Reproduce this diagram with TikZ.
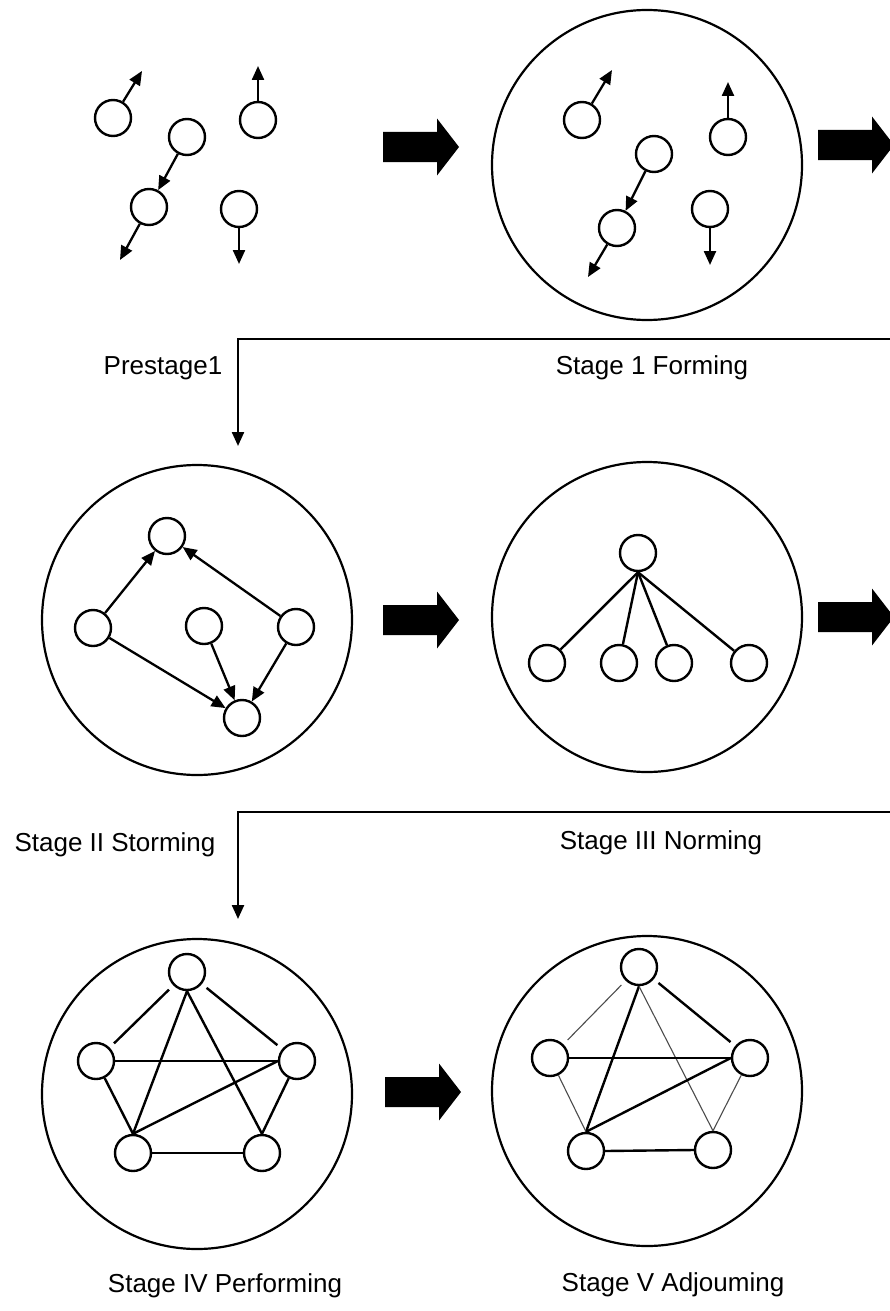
\documentclass[tikz,border=0pt]{standalone}
\usepackage{fontspec}
\setmainfont{Liberation Sans}
\usetikzlibrary{arrows.meta}
\begin{document}
\begin{tikzpicture}[x=1pt,y=-1pt,
  mem/.style={circle,draw,line width=2.4pt,minimum size=36pt,inner sep=0pt},
  grp/.style={circle,draw,line width=2.2pt,minimum size=310pt,inner sep=0pt},
  arr/.style={line width=2.3pt,-{Triangle[length=14pt,width=12pt]}},
  link/.style={line width=2.4pt},
  gap/.style={shorten >=6pt,shorten <=6pt},
  thin link/.style={line width=1.1pt,black!70},
  lab/.style={font=\fontsize{26}{30}\selectfont,inner sep=0pt},
  fatarrow/.pic={\fill (0,-15) -- (54,-15) -- (54,-28.5) -- (76,0) -- (54,28.5) -- (54,15) -- (0,15) -- cycle;}
]
\useasboundingbox (0,0) rectangle (890,1311);
\clip (0,0) rectangle (890,1311);

% ---------- Prestage ----------
\node[mem] (a1) at (113,118) {};
\node[mem] (a2) at (258,120) {};
\node[mem] (a3) at (187,137) {};
\node[mem] (a4) at (149,207) {};
\node[mem] (a5) at (239,209) {};
\coordinate (a1e) at (142,71);
\coordinate (a2e) at (258,66);
\coordinate (a4e) at (120,260);
\coordinate (a5e) at (239,264);
\draw[arr] (a1) -- (a1e);
\draw[arr] (a2) -- (a2e);
\draw[arr] (a3) -- (a4);
\draw[arr] (a4) -- (a4e);
\draw[arr] (a5) -- (a5e);

\pic at (383,147) {fatarrow};

% ---------- Stage 1 ----------
\node[grp] (g1) at (647,165) {};
\node[mem] (b1) at (582,120) {};
\node[mem] (b2) at (728,137) {};
\node[mem] (b3) at (654,154) {};
\node[mem] (b4) at (617,228) {};
\node[mem] (b5) at (710,209) {};
\coordinate (b1e) at (612,70);
\coordinate (b2e) at (728,82);
\coordinate (b4e) at (588,277);
\coordinate (b5e) at (710,265);
\draw[arr] (b1) -- (b1e);
\draw[arr] (b2) -- (b2e);
\draw[arr] (b3) -- (b4);
\draw[arr] (b4) -- (b4e);
\draw[arr] (b5) -- (b5e);

\pic at (818,145) {fatarrow};

% connector 1
\coordinate (r1) at (895,339);
\coordinate (k1) at (238,339);
\coordinate (d1) at (238,446);
\draw[arr] (r1) -- (k1) -- (d1);

\node[lab] (l0) at (163,368) {Prestage1};
\node[lab] (l1) at (652,368) {Stage 1 Forming};

% ---------- Stage II ----------
\node[grp] (g2) at (197,620) {};
\node[mem] (c1) at (167,536) {};
\node[mem] (c2) at (93,628) {};
\node[mem] (c3) at (204,626) {};
\node[mem] (c4) at (296,627) {};
\node[mem] (c5) at (242,718) {};
\draw[arr] (c2) -- (c1);
\draw[arr] (c4) -- (c1);
\draw[arr] (c2) -- (c5);
\draw[arr] (c3) -- (c5);
\draw[arr] (c4) -- (c5);

\pic at (383,620) {fatarrow};

% ---------- Stage III ----------
\node[grp] (g3) at (647,617) {};
\node[mem] (n0) at (638,553) {};
\node[mem] (n1) at (547,663) {};
\node[mem] (n2) at (619,663) {};
\node[mem] (n3) at (674,663) {};
\node[mem] (n4) at (749,663) {};
\draw[link] (n0.south) -- (n1);
\draw[link] (n0.south) -- (n2);
\draw[link] (n0.south) -- (n3);
\draw[link] (n0.south) -- (n4);

\pic at (818,617) {fatarrow};

% connector 2
\coordinate (r2) at (895,812);
\coordinate (k2) at (238,812);
\coordinate (d2) at (238,919);
\draw[arr] (r2) -- (k2) -- (d2);

\node[lab] (l2) at (115,845) {Stage II Storming};
\node[lab] (l3) at (661,843) {Stage III Norming};

% ---------- Stage IV ----------
\node[grp] (g4) at (197,1094) {};
\node[mem] (p1) at (187,972) {};
\node[mem] (p2) at (96,1061) {};
\node[mem] (p3) at (297,1061) {};
\node[mem] (p4) at (133,1153) {};
\node[mem] (p5) at (262,1153) {};
\draw[link,gap] (p1) -- (p2);
\draw[link,gap] (p1) -- (p3);
\draw[link] (p1.south) -- (p4.north);
\draw[link] (p1.south) -- (p5.north);
\draw[link] (p2.east) -- (p3.west);
\draw[link] (p2) -- (p4.north);
\draw[link] (p3) -- (p5.north);
\draw[link] (p3.west) -- (p4.north);
\draw[link] (p4.east) -- (p5.west);

\pic at (385,1092) {fatarrow};

% ---------- Stage V ----------
\node[grp] (g5) at (647,1091) {};
\node[mem] (q1) at (639,967) {};
\node[mem] (q2) at (550,1058) {};
\node[mem] (q3) at (750,1058) {};
\node[mem] (q4) at (586,1151) {};
\node[mem] (q5) at (713,1150) {};
\draw[thin link,gap] (q1) -- (q2);
\draw[link,gap] (q1) -- (q3);
\draw[link] (q1.south) -- (q4.north);
\draw[thin link] (q1.south) -- (q5.north);
\draw[link] (q2.east) -- (q3.west);
\draw[thin link] (q2) -- (q4.north);
\draw[thin link] (q3) -- (q5.north);
\draw[link] (q3.west) -- (q4.north);
\draw[link] (q4.east) -- (q5.west);

\node[lab] (l4) at (225,1286) {Stage IV Performing};
\node[lab] (l5) at (673,1285) {Stage V Adjouming};
\end{tikzpicture}
\end{document}
